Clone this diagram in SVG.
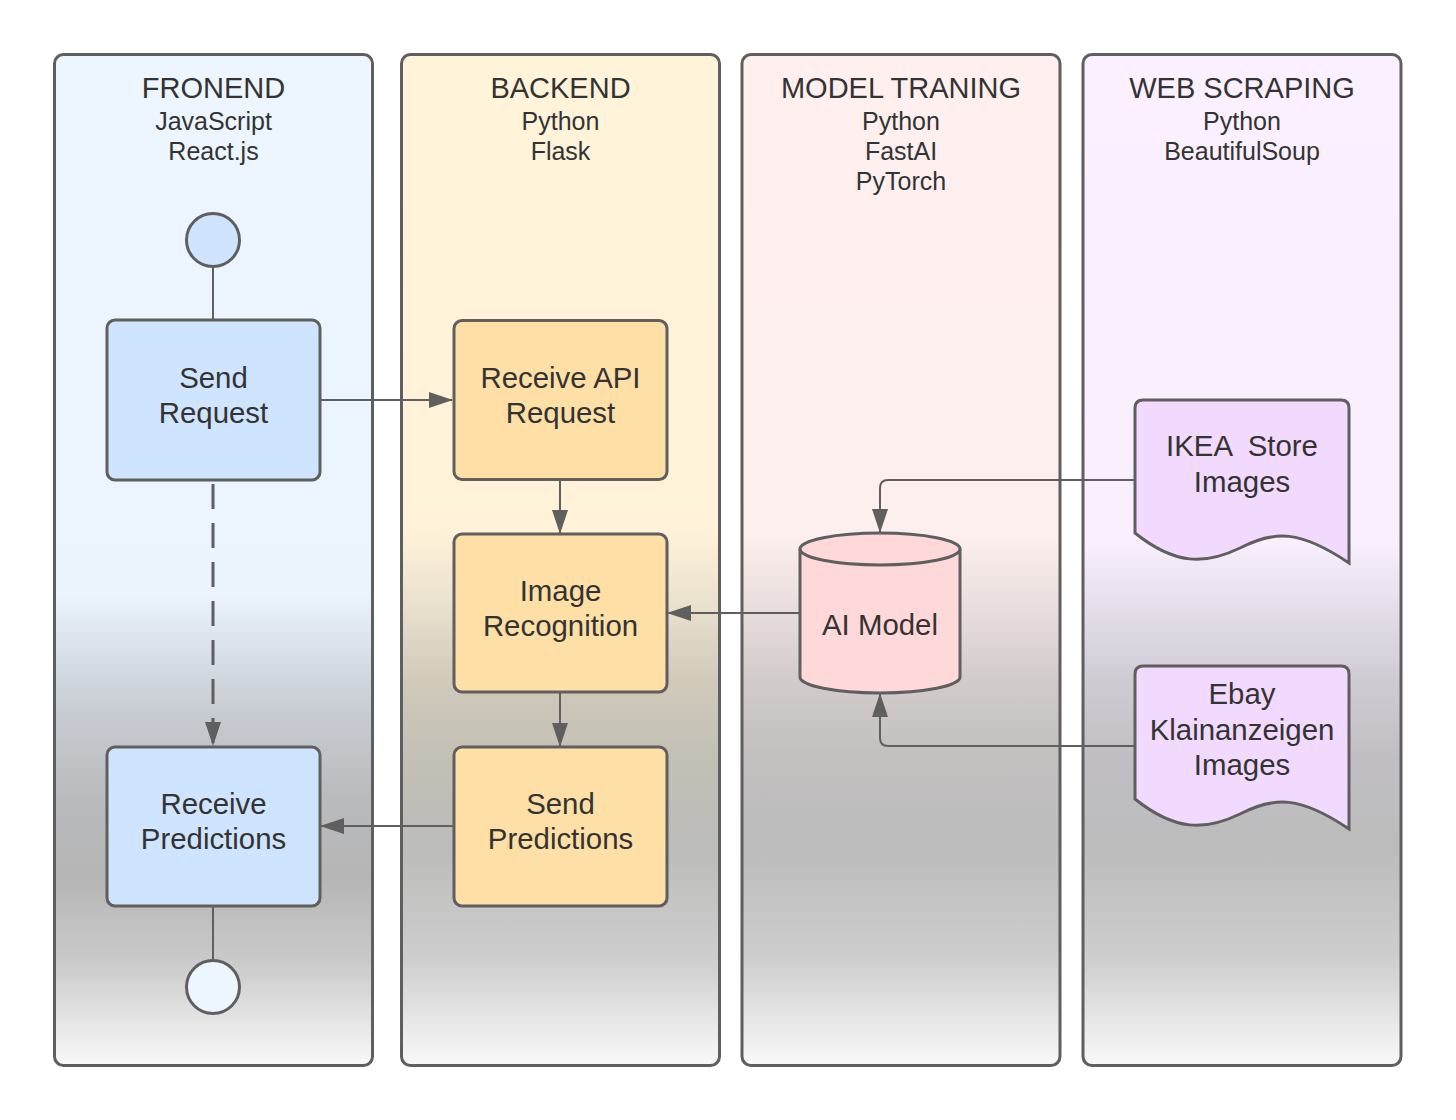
<svg xmlns="http://www.w3.org/2000/svg" width="1456" height="1120" viewBox="0 0 1456 1120">
<defs>
<style>
.lane{stroke:#5f5f5f;stroke-width:3}
.node{stroke:#5f5f5f;stroke-width:3}
.title{font-family:"Liberation Sans",Arial,sans-serif;font-size:29px;fill:#333333;text-anchor:middle}
.sub{font-family:"Liberation Sans",Arial,sans-serif;font-size:25px;fill:#333333;text-anchor:middle}
.lbl{font-family:"Liberation Sans",Arial,sans-serif;font-size:29.4px;fill:#333333;text-anchor:middle;white-space:pre}
.con{fill:none;stroke:#5f5f5f;stroke-width:2}
.dash{fill:none;stroke:#5f5f5f;stroke-width:3;stroke-dasharray:25 14}
</style>
<marker id="arr" viewBox="0 0 24 16" refX="23" refY="8" markerWidth="24" markerHeight="16" markerUnits="userSpaceOnUse" orient="auto">
<path d="M0,0 L24,8 L0,16 Z" fill="#5f5f5f"/>
</marker>
<linearGradient id="gFront" gradientUnits="userSpaceOnUse" x1="0" y1="53" x2="0" y2="1066">
<stop offset="0" stop-color="#edf5ff"/>
<stop offset="0.535" stop-color="#ebf3fd"/>
<stop offset="0.589" stop-color="#d9e0e9"/>
<stop offset="0.658" stop-color="#c6cad0"/>
<stop offset="0.737" stop-color="#b9babc"/>
<stop offset="0.816" stop-color="#b6b6b6"/>
<stop offset="0.895" stop-color="#c9c9c9"/>
<stop offset="1" stop-color="#f9f9f9"/>
</linearGradient>
<linearGradient id="gBack" gradientUnits="userSpaceOnUse" x1="0" y1="53" x2="0" y2="1066">
<stop offset="0" stop-color="#fff3da"/>
<stop offset="0.471" stop-color="#fff2d9"/>
<stop offset="0.540" stop-color="#ebe2cf"/>
<stop offset="0.619" stop-color="#d1cabb"/>
<stop offset="0.698" stop-color="#c2bfb5"/>
<stop offset="0.787" stop-color="#bcbcbb"/>
<stop offset="0.895" stop-color="#cecece"/>
<stop offset="1" stop-color="#f9f9f9"/>
</linearGradient>
<linearGradient id="gModel" gradientUnits="userSpaceOnUse" x1="0" y1="53" x2="0" y2="1066">
<stop offset="0" stop-color="#fff0ef"/>
<stop offset="0.476" stop-color="#fdefee"/>
<stop offset="0.540" stop-color="#ebe0df"/>
<stop offset="0.619" stop-color="#d2cbcb"/>
<stop offset="0.698" stop-color="#c2bfbf"/>
<stop offset="0.787" stop-color="#bcbcbc"/>
<stop offset="0.895" stop-color="#cecece"/>
<stop offset="1" stop-color="#f9f9f9"/>
</linearGradient>
<linearGradient id="gWeb" gradientUnits="userSpaceOnUse" x1="0" y1="53" x2="0" y2="1066">
<stop offset="0" stop-color="#fbf0ff"/>
<stop offset="0.481" stop-color="#f9effd"/>
<stop offset="0.540" stop-color="#e8e0ec"/>
<stop offset="0.619" stop-color="#cfcbd3"/>
<stop offset="0.698" stop-color="#c0bec3"/>
<stop offset="0.787" stop-color="#bcbcbc"/>
<stop offset="0.895" stop-color="#cecece"/>
<stop offset="1" stop-color="#f9f9f9"/>
</linearGradient>
</defs>
<rect width="1456" height="1120" fill="#ffffff"/>

<g id="lane-frontend">
<rect class="lane" x="54.5" y="54.5" width="318" height="1011" rx="9" fill="url(#gFront)"/>
<text class="title" x="213.5" y="98">FRONEND</text>
<text class="sub" x="213.5" y="130">JavaScript</text>
<text class="sub" x="213.5" y="160">React.js</text>
</g>
<g id="lane-backend">
<rect class="lane" x="401.5" y="54.5" width="318" height="1011" rx="9" fill="url(#gBack)"/>
<text class="title" x="560.5" y="98">BACKEND</text>
<text class="sub" x="560.5" y="130">Python</text>
<text class="sub" x="560.5" y="160">Flask</text>
</g>
<g id="lane-model">
<rect class="lane" x="742" y="54.5" width="318" height="1011" rx="9" fill="url(#gModel)"/>
<text class="title" x="901" y="98">MODEL TRANING</text>
<text class="sub" x="901" y="130">Python</text>
<text class="sub" x="901" y="160">FastAI</text>
<text class="sub" x="901" y="190">PyTorch</text>
</g>
<g id="lane-webscraping">
<rect class="lane" x="1083" y="54.5" width="318" height="1011" rx="9" fill="url(#gWeb)"/>
<text class="title" x="1242" y="98">WEB SCRAPING</text>
<text class="sub" x="1242" y="130">Python</text>
<text class="sub" x="1242" y="160">BeautifulSoup</text>
</g>

<g id="connectors">
<line class="con" x1="213" y1="267" x2="213" y2="320"/>
<line class="con" x1="320" y1="400" x2="452" y2="400" marker-end="url(#arr)"/>
<line class="dash" x1="213" y1="484" x2="213" y2="745" marker-end="url(#arr)"/>
<line class="con" x1="560" y1="480" x2="560" y2="533" marker-end="url(#arr)"/>
<line class="con" x1="560" y1="692" x2="560" y2="746" marker-end="url(#arr)"/>
<line class="con" x1="800" y1="613" x2="668" y2="613" marker-end="url(#arr)"/>
<path class="con" d="M1135,480 L888,480 Q880,480 880,488 L880,532" marker-end="url(#arr)"/>
<path class="con" d="M1135,746 L888,746 Q880,746 880,738 L880,694" marker-end="url(#arr)"/>
<line class="con" x1="453" y1="826" x2="321" y2="826" marker-end="url(#arr)"/>
<line class="con" x1="213" y1="906" x2="213" y2="960"/>
</g>

<g id="start">
<circle class="node" cx="213" cy="240" r="26.5" fill="#cfe4ff"/>
</g>
<g id="send-request">
<rect class="node" x="107" y="320" width="213" height="160" rx="8" fill="#cfe4ff"/>
<text class="lbl" x="213.5" y="388">Send</text>
<text class="lbl" x="213.5" y="423">Request</text>
</g>
<g id="receive-predictions">
<rect class="node" x="107" y="747" width="213" height="159" rx="8" fill="#cfe4ff"/>
<text class="lbl" x="213.5" y="814">Receive</text>
<text class="lbl" x="213.5" y="849">Predictions</text>
</g>
<g id="end">
<circle class="node" cx="213" cy="987" r="26.5" fill="#edf5ff"/>
</g>
<g id="receive-api-request">
<rect class="node" x="454" y="320.5" width="213" height="159" rx="8" fill="#fedfa6"/>
<text class="lbl" x="560.5" y="388">Receive API</text>
<text class="lbl" x="560.5" y="423">Request</text>
</g>
<g id="image-recognition">
<rect class="node" x="454" y="534" width="213" height="158" rx="8" fill="#fedfa6"/>
<text class="lbl" x="560.5" y="601">Image</text>
<text class="lbl" x="560.5" y="636">Recognition</text>
</g>
<g id="send-predictions">
<rect class="node" x="454" y="747" width="213" height="159" rx="8" fill="#fedfa6"/>
<text class="lbl" x="560.5" y="814">Send</text>
<text class="lbl" x="560.5" y="849">Predictions</text>
</g>
<g id="ai-model">
<path class="node" d="M800,549 A80,16 0 0 1 960,549 L960,677 A80,16 0 0 1 800,677 Z" fill="#ffd8d9"/>
<path class="node" d="M800,549 A80,16 0 0 0 960,549" fill="none"/>
<text class="lbl" x="880" y="635">AI Model</text>
</g>
<g id="ikea-store-images">
<path class="node" d="M1143,400 L1341,400 Q1349,400 1349,408 L1349,563 C1300,530 1275,530 1240,548 C1205,565 1175,565 1135,533 L1135,408 Q1135,400 1143,400 Z" fill="#f2d9fe"/>
<text class="lbl" x="1242" y="456">IKEA  Store</text>
<text class="lbl" x="1242" y="492">Images</text>
</g>
<g id="ebay-images">
<path class="node" d="M1143,666 L1341,666 Q1349,666 1349,674 L1349,829 C1300,796 1275,796 1240,814 C1205,831 1175,831 1135,799 L1135,674 Q1135,666 1143,666 Z" fill="#f2d9fe"/>
<text class="lbl" x="1242" y="704">Ebay</text>
<text class="lbl" x="1242" y="740">Klainanzeigen</text>
<text class="lbl" x="1242" y="775">Images</text>
</g>
</svg>
